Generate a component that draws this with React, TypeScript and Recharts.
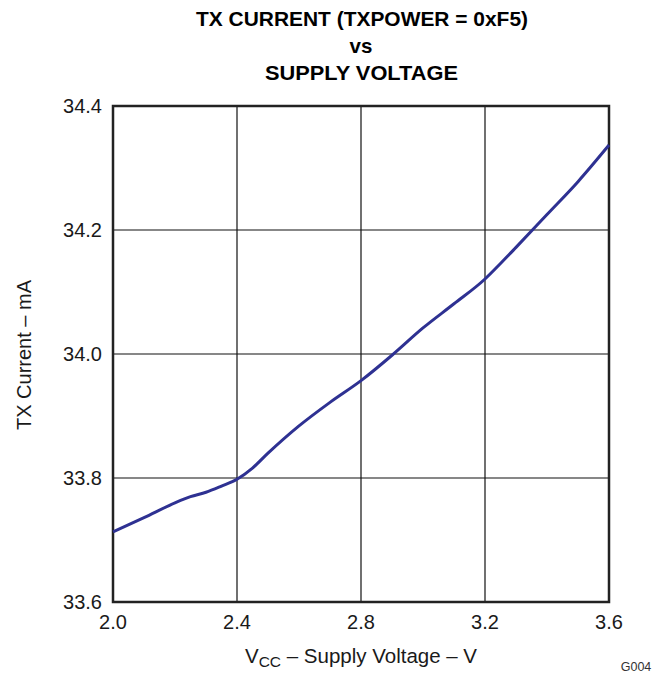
import React from "react";
import {
  LineChart,
  Line,
  XAxis,
  YAxis,
  CartesianGrid,
  ReferenceArea,
} from "recharts";

// supply voltage (V) and TX current (mA)
const VOLTAGES = [
  2.0, 2.1, 2.2, 2.25, 2.3, 2.35, 2.4, 2.45, 2.5, 2.6, 2.7, 2.8, 2.9, 3.0, 3.1,
  3.2, 3.25, 3.3, 3.4, 3.5, 3.6,
];
const CURRENTS = [
  33.713, 33.736, 33.76, 33.77, 33.777, 33.787, 33.798, 33.816, 33.84, 33.884,
  33.922, 33.957, 33.998, 34.042, 34.081, 34.121, 34.146, 34.172, 34.225,
  34.278, 34.337,
];
const X_TICKS = [2.0, 2.4, 2.8, 3.2, 3.6];
const Y_TICKS = [33.6, 33.8, 34.0, 34.2, 34.4];

const TITLE_LINES = ["TX CURRENT (TXPOWER = 0xF5)", "vs", "SUPPLY VOLTAGE"];

const FONT = '"Liberation Sans", Arial, Helvetica, sans-serif';
const INK = "#1a1a1a";

const data = VOLTAGES.map((v, i) => ({ v, i: CURRENTS[i] }));

const XLabel = () => (
  <text x={361} y={663} textAnchor="middle" fontFamily={FONT} fontSize={20.5} fill={INK}>
    V
    <tspan fontSize={15.5} dy={4}>
      CC
    </tspan>
    <tspan dy={-4}> – Supply Voltage – V</tspan>
  </text>
);

const YLabel = () => (
  <text
    x={31}
    y={355}
    transform="rotate(-90 31 355)"
    textAnchor="middle"
    fontFamily={FONT}
    fontSize={20}
    fill={INK}
  >
    TX Current – mA
  </text>
);

export default function App() {
  return (
    <div
      style={{
        position: "absolute",
        left: 0,
        top: 0,
        width: 661,
        height: 677,
        background: "#fff",
      }}
    >
      <LineChart
        width={661}
        height={677}
        data={data}
        margin={{ top: 106, right: 52, bottom: 0, left: 0 }}
      >
        <CartesianGrid stroke="#111" strokeWidth={1.2} />
        <XAxis
          dataKey="v"
          type="number"
          domain={[2.0, 3.6]}
          ticks={X_TICKS}
          tickFormatter={(t: number) => t.toFixed(1)}
          height={75}
          axisLine={false}
          tickLine={false}
          tickSize={0}
          tickMargin={13}
          tick={{ fontSize: 20, fill: INK, fontFamily: FONT }}
          label={<XLabel />}
        />
        <YAxis
          type="number"
          domain={[33.6, 34.4]}
          ticks={Y_TICKS}
          tickFormatter={(t: number) => t.toFixed(1)}
          width={113}
          axisLine={false}
          tickLine={false}
          tickSize={0}
          tickMargin={11}
          tick={{ fontSize: 20, fill: INK, fontFamily: FONT }}
          label={<YLabel />}
        />
        <ReferenceArea
          x1={2.0}
          x2={3.6}
          y1={33.6}
          y2={34.4}
          fill="none"
          fillOpacity={0}
          stroke="#222"
          strokeWidth={2.5}
          ifOverflow="visible"
        />
        <Line
          dataKey="i"
          type="monotone"
          stroke="#2e3192"
          strokeWidth={3}
          dot={false}
          isAnimationActive={false}
        />
      </LineChart>
      <svg
        width={661}
        height={677}
        style={{ position: "absolute", left: 0, top: 0, pointerEvents: "none" }}
      >
        <text x={362} y={26} textAnchor="middle" fontFamily={FONT} fontWeight="bold" fontSize={20.5} fill="#000" textLength={332} lengthAdjust="spacingAndGlyphs">
          {TITLE_LINES[0]}
        </text>
        <text x={361} y={53} textAnchor="middle" fontFamily={FONT} fontWeight="bold" fontSize={20.5} fill="#000">
          {TITLE_LINES[1]}
        </text>
        <text x={361.5} y={79.5} textAnchor="middle" fontFamily={FONT} fontWeight="bold" fontSize={20.5} fill="#000" textLength={193} lengthAdjust="spacingAndGlyphs">
          {TITLE_LINES[2]}
        </text>
        <text x={636} y={671} textAnchor="middle" fontFamily={FONT} fontSize={12.5} fill="#333">
          G004
        </text>
      </svg>
    </div>
  );
}
